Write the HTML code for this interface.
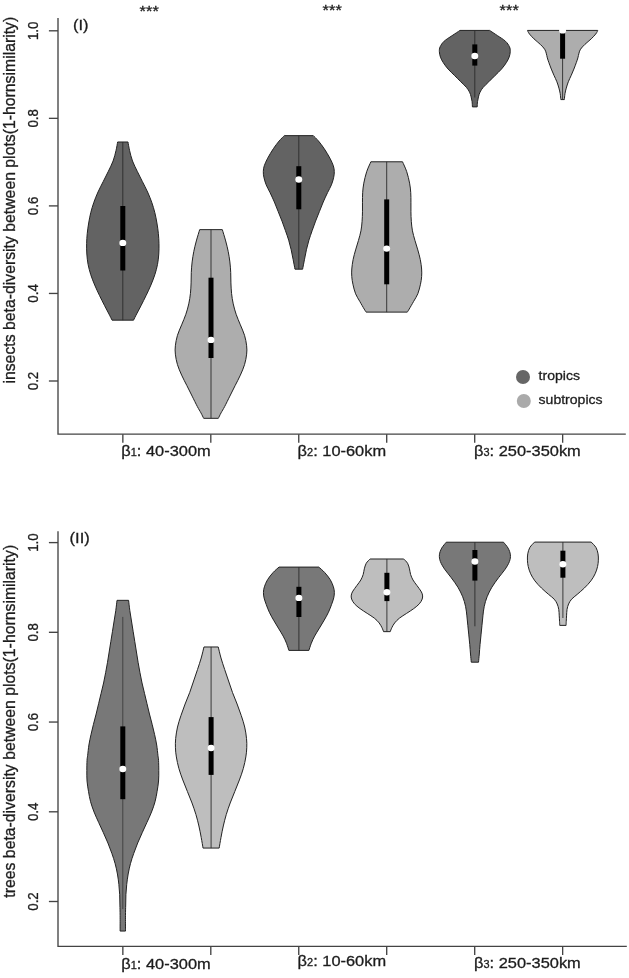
<!DOCTYPE html>
<html lang="en"><head><meta charset="utf-8"><title>Beta-diversity violin plots</title>
<style>html,body{margin:0;padding:0;background:#fff}body{width:629px;height:978px;overflow:hidden}svg{display:block}</style></head>
<body>
<svg width="629" height="978" viewBox="0 0 629 978">
<rect width="629" height="978" fill="#fff"/>
<g stroke="#444" stroke-width="1.35" fill="none" stroke-linecap="butt">
<path d="M58.0,18.1 V434.15 H625.8" stroke-linejoin="miter"/>
<path d="M48.9,30.8 H58.0"/>
<path d="M48.9,118.35 H58.0"/>
<path d="M48.9,205.9 H58.0"/>
<path d="M48.9,293.45 H58.0"/>
<path d="M48.9,381.0 H58.0"/>
<path d="M122.85,434.15 V442.75"/>
<path d="M210.8,434.15 V442.75"/>
<path d="M298.75,434.15 V442.75"/>
<path d="M386.7,434.15 V442.75"/>
<path d="M474.7,434.15 V442.75"/>
<path d="M562.65,434.15 V442.75"/>
</g>
<g stroke="#444" stroke-width="1.35" fill="none" stroke-linecap="butt">
<path d="M58.0,531.2 V946.4 H626.8" stroke-linejoin="miter"/>
<path d="M48.9,542.6 H58.0"/>
<path d="M48.9,632.3 H58.0"/>
<path d="M48.9,722.05 H58.0"/>
<path d="M48.9,811.8 H58.0"/>
<path d="M48.9,901.5 H58.0"/>
<path d="M122.85,946.4 V955.0"/>
<path d="M210.8,946.4 V955.0"/>
<path d="M298.75,946.4 V955.0"/>
<path d="M386.7,946.4 V955.0"/>
<path d="M474.7,946.4 V955.0"/>
<path d="M562.65,946.4 V955.0"/>
</g>
<path d="M117.63,141.99 C117.36,143.44 116.74,147.50 115.98,150.67 C115.22,153.84 114.36,157.56 113.09,161.00 C111.81,164.45 109.98,167.89 108.33,171.34 C106.68,174.78 104.89,178.23 103.16,181.67 C101.44,185.12 99.55,188.56 98.00,192.01 C96.45,195.45 95.07,198.90 93.86,202.34 C92.66,205.79 91.62,209.23 90.76,212.68 C89.90,216.12 89.28,219.57 88.69,223.01 C88.11,226.46 87.59,229.90 87.25,233.35 C86.90,236.79 86.70,240.24 86.63,243.68 C86.56,247.13 86.59,250.57 86.83,254.02 C87.08,257.46 87.42,260.91 88.07,264.35 C88.73,267.80 89.66,271.24 90.76,274.69 C91.86,278.13 93.24,281.58 94.69,285.02 C96.14,288.47 97.79,291.91 99.44,295.36 C101.10,298.80 103.03,302.59 104.61,305.69 C106.20,308.79 107.71,311.55 108.95,313.96 C110.19,316.37 111.54,319.13 112.05,320.16 L133.55,320.16 C134.06,319.13 135.41,316.37 136.65,313.96 C137.89,311.55 139.40,308.79 140.99,305.69 C142.57,302.59 144.50,298.80 146.16,295.36 C147.81,291.91 149.46,288.47 150.91,285.02 C152.36,281.58 153.74,278.13 154.84,274.69 C155.94,271.24 156.87,267.80 157.53,264.35 C158.18,260.91 158.52,257.46 158.77,254.02 C159.01,250.57 159.04,247.13 158.97,243.68 C158.90,240.24 158.70,236.79 158.35,233.35 C158.01,229.90 157.49,226.46 156.91,223.01 C156.32,219.57 155.70,216.12 154.84,212.68 C153.98,209.23 152.94,205.79 151.74,202.34 C150.53,198.90 149.15,195.45 147.60,192.01 C146.05,188.56 144.16,185.12 142.44,181.67 C140.71,178.23 138.92,174.78 137.27,171.34 C135.62,167.89 133.79,164.45 132.51,161.00 C131.24,157.56 130.38,153.84 129.62,150.67 C128.86,147.50 128.24,143.44 127.97,141.99 Z" fill="#636363" stroke="#222" stroke-width="1" stroke-linejoin="round"/>
<path d="M122.80,141.99 V320.16" stroke="#2b2b2b" stroke-width="0.9"/>
<rect x="120.30" y="206.00" width="5" height="64.50" fill="#000"/>
<ellipse cx="122.80" cy="242.90" rx="3.45" ry="3.2" fill="#fff"/>
<path d="M199.68,229.64 C199.12,231.53 197.30,237.33 196.32,240.96 C195.35,244.60 194.51,247.95 193.81,251.45 C193.11,254.94 192.55,258.43 192.13,261.93 C191.71,265.42 191.47,268.92 191.29,272.41 C191.12,275.90 191.22,279.40 191.08,282.89 C190.94,286.39 190.84,289.88 190.45,293.38 C190.07,296.87 189.55,300.36 188.78,303.86 C188.01,307.35 187.03,310.85 185.84,314.34 C184.65,317.83 183.05,321.33 181.65,324.82 C180.25,328.32 178.51,331.81 177.46,335.30 C176.41,338.80 175.71,342.64 175.36,345.79 C175.01,348.93 175.01,351.03 175.36,354.17 C175.71,357.32 176.41,361.16 177.46,364.65 C178.51,368.15 180.08,371.64 181.65,375.14 C183.22,378.63 185.14,382.12 186.89,385.62 C188.64,389.11 190.39,392.61 192.13,396.10 C193.88,399.59 195.91,403.79 197.37,406.58 C198.84,409.38 199.89,410.92 200.94,412.87 C201.99,414.83 203.21,417.41 203.66,418.32 L218.34,418.32 C218.79,417.41 220.01,414.83 221.06,412.87 C222.11,410.92 223.16,409.38 224.63,406.58 C226.09,403.79 228.12,399.59 229.87,396.10 C231.61,392.61 233.36,389.11 235.11,385.62 C236.86,382.12 238.78,378.63 240.35,375.14 C241.92,371.64 243.49,368.15 244.54,364.65 C245.59,361.16 246.29,357.32 246.64,354.17 C246.99,351.03 246.99,348.93 246.64,345.79 C246.29,342.64 245.59,338.80 244.54,335.30 C243.49,331.81 241.75,328.32 240.35,324.82 C238.95,321.33 237.35,317.83 236.16,314.34 C234.97,310.85 233.99,307.35 233.22,303.86 C232.45,300.36 231.93,296.87 231.55,293.38 C231.16,289.88 231.06,286.39 230.92,282.89 C230.78,279.40 230.88,275.90 230.71,272.41 C230.53,268.92 230.29,265.42 229.87,261.93 C229.45,258.43 228.89,254.94 228.19,251.45 C227.49,247.95 226.65,244.60 225.68,240.96 C224.70,237.33 222.88,231.53 222.32,229.64 Z" fill="#adadad" stroke="#222" stroke-width="1" stroke-linejoin="round"/>
<path d="M211.00,229.64 V418.32" stroke="#2b2b2b" stroke-width="0.9"/>
<rect x="208.50" y="277.70" width="5" height="80.30" fill="#000"/>
<ellipse cx="211.00" cy="339.90" rx="3.45" ry="3.2" fill="#fff"/>
<path d="M284.30,135.64 C283.44,136.53 280.96,138.82 279.15,140.98 C277.34,143.15 275.34,145.75 273.43,148.62 C271.52,151.48 269.23,155.29 267.70,158.15 C266.18,161.01 265.00,163.56 264.27,165.78 C263.54,168.01 263.38,169.60 263.32,171.51 C263.25,173.41 263.41,175.00 263.89,177.23 C264.37,179.46 265.16,182.32 266.18,184.86 C267.20,187.40 268.63,189.63 269.99,192.49 C271.36,195.35 273.01,198.85 274.38,202.03 C275.75,205.21 276.93,208.39 278.20,211.57 C279.47,214.75 280.80,217.93 282.01,221.11 C283.22,224.29 284.33,227.47 285.45,230.64 C286.56,233.82 287.74,237.00 288.69,240.18 C289.64,243.36 290.44,246.54 291.17,249.72 C291.90,252.90 292.44,256.02 293.08,259.26 C293.71,262.50 294.67,267.53 294.98,269.18 L302.62,269.18 C302.93,267.53 303.89,262.50 304.52,259.26 C305.16,256.02 305.70,252.90 306.43,249.72 C307.16,246.54 307.96,243.36 308.91,240.18 C309.86,237.00 311.04,233.82 312.15,230.64 C313.27,227.47 314.38,224.29 315.59,221.11 C316.80,217.93 318.13,214.75 319.40,211.57 C320.67,208.39 321.85,205.21 323.22,202.03 C324.59,198.85 326.24,195.35 327.61,192.49 C328.97,189.63 330.40,187.40 331.42,184.86 C332.44,182.32 333.23,179.46 333.71,177.23 C334.19,175.00 334.35,173.41 334.28,171.51 C334.22,169.60 334.06,168.01 333.33,165.78 C332.60,163.56 331.42,161.01 329.90,158.15 C328.37,155.29 326.08,151.48 324.17,148.62 C322.26,145.75 320.26,143.15 318.45,140.98 C316.64,138.82 314.16,136.53 313.30,135.64 Z" fill="#636363" stroke="#222" stroke-width="1" stroke-linejoin="round"/>
<path d="M298.80,135.64 V269.18" stroke="#2b2b2b" stroke-width="0.9"/>
<rect x="296.30" y="166.20" width="5" height="43.10" fill="#000"/>
<ellipse cx="298.80" cy="179.50" rx="3.45" ry="3.2" fill="#fff"/>
<path d="M370.87,161.79 C370.17,163.44 367.85,168.15 366.67,171.71 C365.49,175.27 364.48,179.66 363.81,183.15 C363.14,186.65 362.89,189.51 362.66,192.69 C362.44,195.87 362.50,199.05 362.47,202.23 C362.44,205.41 362.54,208.59 362.47,211.77 C362.41,214.95 362.35,218.13 362.09,221.31 C361.84,224.49 361.55,227.67 360.95,230.85 C360.34,234.02 359.36,237.20 358.47,240.38 C357.58,243.56 356.50,246.74 355.60,249.92 C354.71,253.10 353.76,256.28 353.13,259.46 C352.49,262.64 352.01,266.14 351.79,269.00 C351.57,271.86 351.60,274.09 351.79,276.63 C351.98,279.17 352.30,281.40 352.93,284.26 C353.57,287.12 354.46,290.94 355.60,293.80 C356.75,296.66 358.37,298.89 359.80,301.43 C361.23,303.97 363.14,307.28 364.19,309.06 C365.24,310.84 365.78,311.60 366.10,312.11 L407.30,312.11 C407.62,311.60 408.16,310.84 409.21,309.06 C410.26,307.28 412.17,303.97 413.60,301.43 C415.03,298.89 416.65,296.66 417.80,293.80 C418.94,290.94 419.83,287.12 420.47,284.26 C421.10,281.40 421.42,279.17 421.61,276.63 C421.80,274.09 421.83,271.86 421.61,269.00 C421.39,266.14 420.91,262.64 420.27,259.46 C419.64,256.28 418.69,253.10 417.80,249.92 C416.90,246.74 415.82,243.56 414.93,240.38 C414.04,237.20 413.06,234.02 412.45,230.85 C411.85,227.67 411.56,224.49 411.31,221.31 C411.05,218.13 410.99,214.95 410.93,211.77 C410.86,208.59 410.96,205.41 410.93,202.23 C410.90,199.05 410.96,195.87 410.74,192.69 C410.51,189.51 410.26,186.65 409.59,183.15 C408.92,179.66 407.91,175.27 406.73,171.71 C405.55,168.15 403.23,163.44 402.53,161.79 Z" fill="#adadad" stroke="#222" stroke-width="1" stroke-linejoin="round"/>
<path d="M386.70,161.79 V312.11" stroke="#2b2b2b" stroke-width="0.9"/>
<rect x="384.20" y="199.40" width="5" height="84.90" fill="#000"/>
<ellipse cx="386.70" cy="248.60" rx="3.45" ry="3.2" fill="#fff"/>
<path d="M460.01,30.42 C458.69,31.30 454.72,33.87 452.07,35.67 C449.42,37.47 446.10,39.38 444.12,41.23 C442.13,43.09 440.94,45.07 440.14,46.80 C439.35,48.52 439.29,49.84 439.35,51.57 C439.40,53.29 439.80,55.28 440.46,57.13 C441.12,58.99 442.05,60.71 443.32,62.69 C444.59,64.68 446.24,66.93 448.09,69.05 C449.95,71.17 452.33,73.29 454.45,75.41 C456.57,77.53 458.82,79.79 460.81,81.77 C462.80,83.76 464.92,85.61 466.37,87.34 C467.83,89.06 468.76,90.52 469.55,92.11 C470.35,93.70 470.72,95.29 471.14,96.88 C471.57,98.47 471.89,99.98 472.10,101.65 C472.31,103.31 472.36,106.02 472.42,106.89 L477.18,106.89 C477.24,106.02 477.29,103.31 477.50,101.65 C477.71,99.98 478.03,98.47 478.46,96.88 C478.88,95.29 479.25,93.70 480.05,92.11 C480.84,90.52 481.77,89.06 483.23,87.34 C484.68,85.61 486.80,83.76 488.79,81.77 C490.78,79.79 493.03,77.53 495.15,75.41 C497.27,73.29 499.65,71.17 501.51,69.05 C503.36,66.93 505.01,64.68 506.28,62.69 C507.55,60.71 508.48,58.99 509.14,57.13 C509.80,55.28 510.20,53.29 510.25,51.57 C510.31,49.84 510.25,48.52 509.46,46.80 C508.66,45.07 507.47,43.09 505.48,41.23 C503.50,39.38 500.18,37.47 497.53,35.67 C494.88,33.87 490.91,31.30 489.59,30.42 Z" fill="#636363" stroke="#222" stroke-width="1" stroke-linejoin="round"/>
<path d="M474.80,30.40 V97.50" stroke="#2b2b2b" stroke-width="0.9"/>
<rect x="472.30" y="44.40" width="5" height="21.20" fill="#000"/>
<ellipse cx="474.80" cy="56.00" rx="3.45" ry="3.2" fill="#fff"/>
<path d="M527.46,30.42 C527.54,30.61 527.60,30.92 527.94,31.53 C528.29,32.14 528.52,32.86 529.53,34.08 C530.54,35.30 532.18,37.13 533.98,38.85 C535.78,40.57 538.57,42.69 540.34,44.41 C542.12,46.13 543.65,47.72 544.63,49.18 C545.62,50.64 545.77,51.70 546.22,53.16 C546.68,54.61 546.89,56.34 547.34,57.93 C547.79,59.52 548.27,60.84 548.93,62.69 C549.59,64.55 550.46,66.93 551.31,69.05 C552.16,71.17 553.09,73.29 554.01,75.41 C554.94,77.53 556.06,79.65 556.88,81.77 C557.70,83.89 558.39,86.14 558.94,88.13 C559.50,90.12 559.90,91.79 560.22,93.70 C560.53,95.60 560.75,98.60 560.85,99.58 L564.35,99.58 C564.45,98.60 564.67,95.60 564.98,93.70 C565.30,91.79 565.70,90.12 566.26,88.13 C566.81,86.14 567.50,83.89 568.32,81.77 C569.14,79.65 570.26,77.53 571.19,75.41 C572.11,73.29 573.04,71.17 573.89,69.05 C574.74,66.93 575.61,64.55 576.27,62.69 C576.93,60.84 577.41,59.52 577.86,57.93 C578.31,56.34 578.52,54.61 578.98,53.16 C579.43,51.70 579.58,50.64 580.57,49.18 C581.55,47.72 583.08,46.13 584.86,44.41 C586.63,42.69 589.42,40.57 591.22,38.85 C593.02,37.13 594.66,35.30 595.67,34.08 C596.68,32.86 596.91,32.14 597.26,31.53 C597.60,30.92 597.66,30.61 597.74,30.42 Z" fill="#adadad" stroke="#222" stroke-width="1" stroke-linejoin="round"/>
<path d="M562.60,30.42 V99.58" stroke="#2b2b2b" stroke-width="0.9"/>
<rect x="560.10" y="31.00" width="5" height="27.70" fill="#000"/>
<ellipse cx="562.60" cy="30.40" rx="3.45" ry="3.2" fill="#fff"/>
<path d="M117.01,600.33 C116.81,602.06 116.25,607.22 115.77,610.67 C115.29,614.11 114.67,617.56 114.12,621.00 C113.57,624.45 113.02,627.89 112.47,631.34 C111.91,634.78 111.36,638.23 110.81,641.67 C110.26,645.12 109.71,648.56 109.16,652.01 C108.61,655.45 108.09,658.90 107.50,662.34 C106.92,665.79 106.30,669.23 105.64,672.68 C104.99,676.12 104.34,679.57 103.58,683.01 C102.82,686.46 101.92,689.90 101.10,693.35 C100.27,696.79 99.44,700.24 98.62,703.68 C97.79,707.13 97.00,710.57 96.14,714.02 C95.27,717.46 94.31,720.91 93.45,724.35 C92.59,727.80 91.73,731.24 90.97,734.69 C90.21,738.13 89.45,741.58 88.90,745.02 C88.35,748.47 87.97,752.81 87.66,755.36 C87.35,757.91 87.18,757.78 87.04,760.33 C86.90,762.89 86.83,767.22 86.83,770.67 C86.83,774.11 86.77,777.56 87.04,781.00 C87.32,784.45 87.90,787.89 88.49,791.34 C89.07,794.78 89.63,798.23 90.56,801.67 C91.49,805.12 92.73,808.56 94.07,812.01 C95.41,815.45 97.07,818.90 98.62,822.34 C100.17,825.79 101.82,829.23 103.37,832.68 C104.92,836.12 106.51,839.57 107.92,843.01 C109.33,846.46 110.64,849.90 111.85,853.35 C113.05,856.79 114.22,860.24 115.15,863.68 C116.08,867.13 116.81,870.57 117.43,874.02 C118.05,877.46 118.49,880.91 118.87,884.35 C119.25,887.80 119.53,891.24 119.70,894.69 C119.87,898.13 119.84,901.58 119.91,905.02 C119.98,908.47 120.08,911.02 120.11,915.36 C120.15,919.70 120.11,928.45 120.11,931.07 L125.49,931.07 C125.49,928.45 125.45,919.70 125.49,915.36 C125.52,911.02 125.62,908.47 125.69,905.02 C125.76,901.58 125.73,898.13 125.90,894.69 C126.07,891.24 126.35,887.80 126.73,884.35 C127.11,880.91 127.55,877.46 128.17,874.02 C128.79,870.57 129.52,867.13 130.45,863.68 C131.38,860.24 132.55,856.79 133.75,853.35 C134.96,849.90 136.27,846.46 137.68,843.01 C139.09,839.57 140.68,836.12 142.23,832.68 C143.78,829.23 145.43,825.79 146.98,822.34 C148.53,818.90 150.19,815.45 151.53,812.01 C152.87,808.56 154.11,805.12 155.04,801.67 C155.97,798.23 156.53,794.78 157.11,791.34 C157.70,787.89 158.28,784.45 158.56,781.00 C158.83,777.56 158.77,774.11 158.77,770.67 C158.77,767.22 158.70,762.89 158.56,760.33 C158.42,757.78 158.25,757.91 157.94,755.36 C157.63,752.81 157.25,748.47 156.70,745.02 C156.15,741.58 155.39,738.13 154.63,734.69 C153.87,731.24 153.01,727.80 152.15,724.35 C151.29,720.91 150.33,717.46 149.46,714.02 C148.60,710.57 147.81,707.13 146.98,703.68 C146.16,700.24 145.33,696.79 144.50,693.35 C143.68,689.90 142.78,686.46 142.02,683.01 C141.26,679.57 140.61,676.12 139.96,672.68 C139.30,669.23 138.68,665.79 138.10,662.34 C137.51,658.90 136.99,655.45 136.44,652.01 C135.89,648.56 135.34,645.12 134.79,641.67 C134.24,638.23 133.69,634.78 133.13,631.34 C132.58,627.89 132.03,624.45 131.48,621.00 C130.93,617.56 130.31,614.11 129.83,610.67 C129.35,607.22 128.79,602.06 128.59,600.33 Z" fill="#787878" stroke="#222" stroke-width="1" stroke-linejoin="round"/>
<path d="M122.80,616.90 V909.00" stroke="#2b2b2b" stroke-width="0.7"/>
<rect x="120.30" y="726.40" width="5" height="72.80" fill="#000"/>
<ellipse cx="122.80" cy="769.00" rx="3.45" ry="3.2" fill="#fff"/>
<path d="M203.97,646.97 C203.51,648.81 202.28,654.25 201.21,658.01 C200.13,661.77 198.79,665.68 197.52,669.51 C196.26,673.35 194.92,677.18 193.61,681.02 C192.31,684.85 191.12,688.69 189.70,692.52 C188.28,696.36 186.56,700.19 185.10,704.03 C183.64,707.86 182.22,711.70 180.96,715.53 C179.69,719.37 178.39,723.20 177.51,727.04 C176.62,730.87 176.01,735.09 175.67,738.54 C175.32,741.99 175.32,744.68 175.44,747.75 C175.55,750.82 175.78,753.50 176.36,756.95 C176.93,760.40 177.81,764.62 178.89,768.46 C179.96,772.29 181.38,776.13 182.80,779.96 C184.22,783.80 185.87,787.63 187.40,791.47 C188.93,795.30 190.58,799.14 192.00,802.97 C193.42,806.81 194.76,810.64 195.91,814.48 C197.06,818.31 198.02,822.15 198.90,825.98 C199.79,829.82 200.52,833.80 201.21,837.49 C201.90,841.17 202.74,846.31 203.05,848.07 L219.15,848.07 C219.46,846.31 220.30,841.17 220.99,837.49 C221.68,833.80 222.41,829.82 223.30,825.98 C224.18,822.15 225.14,818.31 226.29,814.48 C227.44,810.64 228.78,806.81 230.20,802.97 C231.62,799.14 233.27,795.30 234.80,791.47 C236.33,787.63 237.98,783.80 239.40,779.96 C240.82,776.13 242.24,772.29 243.31,768.46 C244.39,764.62 245.27,760.40 245.84,756.95 C246.42,753.50 246.65,750.82 246.76,747.75 C246.88,744.68 246.88,741.99 246.53,738.54 C246.19,735.09 245.58,730.87 244.69,727.04 C243.81,723.20 242.51,719.37 241.24,715.53 C239.98,711.70 238.56,707.86 237.10,704.03 C235.64,700.19 233.92,696.36 232.50,692.52 C231.08,688.69 229.89,684.85 228.59,681.02 C227.28,677.18 225.94,673.35 224.68,669.51 C223.41,665.68 222.07,661.77 220.99,658.01 C219.92,654.25 218.69,648.81 218.23,646.97 Z" fill="#bebebe" stroke="#222" stroke-width="1" stroke-linejoin="round"/>
<path d="M211.10,646.97 V848.07" stroke="#2b2b2b" stroke-width="0.9"/>
<rect x="208.60" y="717.10" width="5" height="57.80" fill="#000"/>
<ellipse cx="211.10" cy="748.00" rx="3.45" ry="3.2" fill="#fff"/>
<path d="M279.03,567.08 C278.05,567.98 275.05,570.39 273.14,572.49 C271.24,574.58 269.04,577.26 267.58,579.64 C266.12,582.03 265.09,584.68 264.40,586.80 C263.71,588.92 263.50,590.51 263.45,592.36 C263.39,594.22 263.63,595.94 264.08,597.93 C264.53,599.91 265.28,601.90 266.15,604.28 C267.02,606.67 268.08,609.58 269.33,612.23 C270.57,614.88 272.11,617.53 273.62,620.18 C275.13,622.83 276.80,625.48 278.39,628.13 C279.98,630.78 281.81,633.56 283.16,636.08 C284.51,638.60 285.55,640.85 286.50,643.24 C287.45,645.62 288.49,649.20 288.88,650.39 L308.92,650.39 C309.31,649.20 310.35,645.62 311.30,643.24 C312.25,640.85 313.29,638.60 314.64,636.08 C315.99,633.56 317.82,630.78 319.41,628.13 C321.00,625.48 322.67,622.83 324.18,620.18 C325.69,617.53 327.23,614.88 328.47,612.23 C329.72,609.58 330.78,606.67 331.65,604.28 C332.52,601.90 333.27,599.91 333.72,597.93 C334.17,595.94 334.41,594.22 334.35,592.36 C334.30,590.51 334.09,588.92 333.40,586.80 C332.71,584.68 331.68,582.03 330.22,579.64 C328.76,577.26 326.56,574.58 324.66,572.49 C322.75,570.39 319.75,567.98 318.77,567.08 Z" fill="#787878" stroke="#222" stroke-width="1" stroke-linejoin="round"/>
<path d="M298.90,567.08 V650.39" stroke="#2b2b2b" stroke-width="0.9"/>
<rect x="296.40" y="586.80" width="5" height="30.20" fill="#000"/>
<ellipse cx="298.90" cy="597.90" rx="3.45" ry="3.2" fill="#fff"/>
<path d="M370.05,558.99 C369.41,559.71 367.19,561.64 366.23,563.28 C365.28,564.93 364.83,566.99 364.32,568.85 C363.82,570.70 363.79,572.56 363.21,574.41 C362.63,576.27 361.89,578.12 360.83,579.98 C359.77,581.83 358.18,583.69 356.85,585.54 C355.53,587.40 353.81,589.52 352.88,591.10 C351.95,592.69 351.50,593.75 351.29,595.08 C351.08,596.40 351.08,597.60 351.61,599.05 C352.14,600.51 353.06,602.23 354.47,603.82 C355.87,605.41 357.91,607.00 360.03,608.59 C362.15,610.18 364.80,611.77 367.19,613.36 C369.57,614.95 372.35,616.54 374.34,618.13 C376.33,619.72 377.84,621.31 379.11,622.90 C380.38,624.49 381.23,626.21 381.97,627.67 C382.71,629.13 383.30,630.98 383.56,631.65 L390.24,631.65 C390.50,630.98 391.09,629.13 391.83,627.67 C392.57,626.21 393.42,624.49 394.69,622.90 C395.96,621.31 397.47,619.72 399.46,618.13 C401.45,616.54 404.23,614.95 406.61,613.36 C409.00,611.77 411.65,610.18 413.77,608.59 C415.89,607.00 417.93,605.41 419.33,603.82 C420.74,602.23 421.66,600.51 422.19,599.05 C422.72,597.60 422.72,596.40 422.51,595.08 C422.30,593.75 421.85,592.69 420.92,591.10 C419.99,589.52 418.27,587.40 416.95,585.54 C415.62,583.69 414.03,581.83 412.97,579.98 C411.91,578.12 411.17,576.27 410.59,574.41 C410.01,572.56 409.98,570.70 409.48,568.85 C408.97,566.99 408.52,564.93 407.57,563.28 C406.61,561.64 404.39,559.71 403.75,558.99 Z" fill="#bebebe" stroke="#222" stroke-width="1" stroke-linejoin="round"/>
<path d="M386.90,558.99 V631.65" stroke="#2b2b2b" stroke-width="0.9"/>
<rect x="384.40" y="572.80" width="5" height="28.30" fill="#000"/>
<ellipse cx="386.90" cy="592.20" rx="3.45" ry="3.2" fill="#fff"/>
<path d="M446.28,542.21 C445.52,543.19 442.85,546.02 441.71,548.12 C440.56,550.22 439.64,552.57 439.42,554.80 C439.19,557.03 439.51,559.09 440.37,561.48 C441.23,563.86 442.76,566.40 444.57,569.11 C446.38,571.81 449.02,574.67 451.24,577.69 C453.47,580.71 456.01,584.05 457.92,587.23 C459.83,590.41 461.42,593.59 462.69,596.77 C463.96,599.95 464.85,603.13 465.55,606.31 C466.25,609.49 466.51,612.67 466.89,615.85 C467.27,619.02 467.52,622.20 467.84,625.38 C468.16,628.56 468.48,631.74 468.80,634.92 C469.11,638.10 469.46,641.28 469.75,644.46 C470.04,647.64 470.26,651.04 470.51,654.00 C470.77,656.96 471.15,660.83 471.28,662.20 L478.52,662.20 C478.65,660.83 479.03,656.96 479.29,654.00 C479.54,651.04 479.76,647.64 480.05,644.46 C480.34,641.28 480.69,638.10 481.00,634.92 C481.32,631.74 481.64,628.56 481.96,625.38 C482.28,622.20 482.53,619.02 482.91,615.85 C483.29,612.67 483.55,609.49 484.25,606.31 C484.95,603.13 485.84,599.95 487.11,596.77 C488.38,593.59 489.97,590.41 491.88,587.23 C493.79,584.05 496.33,580.71 498.56,577.69 C500.78,574.67 503.42,571.81 505.23,569.11 C507.04,566.40 508.57,563.86 509.43,561.48 C510.29,559.09 510.61,557.03 510.38,554.80 C510.16,552.57 509.24,550.22 508.09,548.12 C506.95,546.02 504.28,543.19 503.52,542.21 Z" fill="#787878" stroke="#222" stroke-width="1" stroke-linejoin="round"/>
<path d="M474.90,542.20 V626.30" stroke="#2b2b2b" stroke-width="0.9"/>
<rect x="472.40" y="550.00" width="5" height="30.60" fill="#000"/>
<ellipse cx="474.90" cy="561.50" rx="3.45" ry="3.2" fill="#fff"/>
<path d="M534.60,542.08 C533.81,542.98 530.97,545.53 529.83,547.49 C528.69,549.45 528.16,551.73 527.76,553.85 C527.37,555.97 527.37,558.09 527.45,560.21 C527.53,562.33 527.71,564.31 528.24,566.57 C528.77,568.82 529.51,571.34 530.63,573.72 C531.74,576.10 533.12,578.49 534.92,580.87 C536.72,583.26 539.16,585.78 541.44,588.03 C543.72,590.28 546.47,592.53 548.59,594.39 C550.71,596.24 552.73,597.57 554.16,599.16 C555.59,600.75 556.41,602.20 557.18,603.93 C557.95,605.65 558.42,607.50 558.77,609.49 C559.11,611.48 559.11,613.86 559.24,615.85 C559.38,617.84 559.48,619.83 559.56,621.41 C559.64,623.00 559.69,624.73 559.72,625.39 L566.08,625.39 C566.11,624.73 566.16,623.00 566.24,621.41 C566.32,619.83 566.42,617.84 566.56,615.85 C566.69,613.86 566.69,611.48 567.03,609.49 C567.38,607.50 567.85,605.65 568.62,603.93 C569.39,602.20 570.21,600.75 571.64,599.16 C573.07,597.57 575.09,596.24 577.21,594.39 C579.33,592.53 582.08,590.28 584.36,588.03 C586.64,585.78 589.08,583.26 590.88,580.87 C592.68,578.49 594.06,576.10 595.17,573.72 C596.29,571.34 597.03,568.82 597.56,566.57 C598.09,564.31 598.27,562.33 598.35,560.21 C598.43,558.09 598.43,555.97 598.04,553.85 C597.64,551.73 597.11,549.45 595.97,547.49 C594.83,545.53 591.99,542.98 591.20,542.08 Z" fill="#bebebe" stroke="#222" stroke-width="1" stroke-linejoin="round"/>
<path d="M562.90,542.10 V618.00" stroke="#2b2b2b" stroke-width="0.9"/>
<rect x="560.40" y="550.70" width="5" height="27.00" fill="#000"/>
<ellipse cx="562.90" cy="564.20" rx="3.45" ry="3.2" fill="#fff"/>
<circle cx="523" cy="377" r="7" fill="#666"/>
<circle cx="523.8" cy="401" r="7" fill="#aaa"/>
<g font-family="Liberation Sans, Arial, Helvetica, sans-serif" fill="#1c1c1c" stroke="#1c1c1c" stroke-width="0.3">
<text transform="translate(538.6,380) scale(1.04,1)" font-size="13.5" text-anchor="start">tropics</text>
<text transform="translate(538.6,404.4) scale(1.04,1)" font-size="13.5" text-anchor="start">subtropics</text>
<text transform="translate(149.2,15.7) scale(1.095,1)" font-size="15" text-anchor="middle">***</text>
<text transform="translate(332.2,14.5) scale(1.095,1)" font-size="15" text-anchor="middle">***</text>
<text transform="translate(509.2,14.5) scale(1.095,1)" font-size="15" text-anchor="middle">***</text>
<text transform="translate(72.9,30.2) scale(1.1,1)" font-size="15" text-anchor="start">(I)</text>
<text transform="translate(69.6,542.8) scale(1.1,1)" font-size="15" text-anchor="start">(II)</text>
<text transform="translate(37.8,30.8) scale(1.04,1) rotate(-90)" font-size="13.3" text-anchor="middle">1.0</text>
<text transform="translate(37.8,118.35) scale(1.04,1) rotate(-90)" font-size="13.3" text-anchor="middle">0.8</text>
<text transform="translate(37.8,205.9) scale(1.04,1) rotate(-90)" font-size="13.3" text-anchor="middle">0.6</text>
<text transform="translate(37.8,293.45) scale(1.04,1) rotate(-90)" font-size="13.3" text-anchor="middle">0.4</text>
<text transform="translate(37.8,381.0) scale(1.04,1) rotate(-90)" font-size="13.3" text-anchor="middle">0.2</text>
<text transform="translate(37.8,542.6) scale(1.04,1) rotate(-90)" font-size="13.3" text-anchor="middle">1.0</text>
<text transform="translate(37.8,632.3) scale(1.04,1) rotate(-90)" font-size="13.3" text-anchor="middle">0.8</text>
<text transform="translate(37.8,722.05) scale(1.04,1) rotate(-90)" font-size="13.3" text-anchor="middle">0.6</text>
<text transform="translate(37.8,811.8) scale(1.04,1) rotate(-90)" font-size="13.3" text-anchor="middle">0.4</text>
<text transform="translate(37.8,901.5) scale(1.04,1) rotate(-90)" font-size="13.3" text-anchor="middle">0.2</text>
<text transform="translate(14.6,200.15) scale(1.04,1) rotate(-90)" font-size="15.8" text-anchor="middle">insects beta-diversity between plots(1-hornsimilarity)</text>
<text transform="translate(14.6,721.25) scale(1.04,1) rotate(-90)" font-size="15.8" text-anchor="middle">trees beta-diversity between plots(1-hornsimilarity)</text>
<text transform="translate(121.3,455.5) scale(1.095,1)" font-size="15" text-anchor="start">β<tspan font-size="10">1</tspan>: 40-300m</text>
<text transform="translate(297.6,455.5) scale(1.095,1)" font-size="15" text-anchor="start">β<tspan font-size="10">2</tspan>: 10-60km</text>
<text transform="translate(474.0,455.5) scale(1.095,1)" font-size="15" text-anchor="start">β<tspan font-size="10">3</tspan>: 250-350km</text>
<text transform="translate(121.3,968.5) scale(1.095,1)" font-size="15" text-anchor="start">β<tspan font-size="10">1</tspan>: 40-300m</text>
<text transform="translate(297.6,966.2) scale(1.095,1)" font-size="15" text-anchor="start">β<tspan font-size="10">2</tspan>: 10-60km</text>
<text transform="translate(474.0,968.2) scale(1.095,1)" font-size="15" text-anchor="start">β<tspan font-size="10">3</tspan>: 250-350km</text>
</g>
</svg>
</body></html>
